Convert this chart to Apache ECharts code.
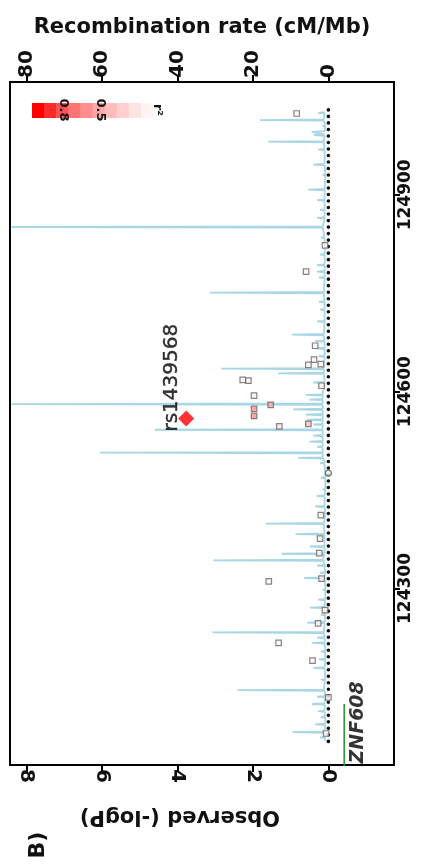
<!DOCTYPE html>
<html><head><meta charset="utf-8">
<script src="https://cdn.jsdelivr.net/npm/echarts@6/dist/echarts.min.js"></script>
<style>html,body{margin:0;padding:0;background:#fff}#c{width:428px;height:865px}</style>
</head><body><div id="c"></div>
<script>
// ---- axis ticks ----
const logPTicks = [0, 2, 4, 6, 8];
const recombTicks = [0, 20, 40, 60, 80];
const posTicks = [124300, 124600, 124900];

// ---- recombination rate (cM/Mb) along position (kb): each row = shoulder, peak, shoulder ----
const recombPos = [
  124068,
  124072,124073,124074,  124080,124081,124082,  124092,124093,124094,  124103,124104,124105,
  124112,124113,124114,  124123,124124,124125,  124134,124135,124136,  124144,124145,124146,
  124160,124161,124162,  124178,124179,124180,  124191,124192,124193,  124203,124204,124205,
  124216,124217,124218,  124224,124225,124226,  124232,124233,124234,  124247,124248,124249,
  124259,124260,124261,  124270,124271,124272,  124282,124283,124284,  124297,124298,124299,
  124315,124316,124317,  124323,124324,124325,  124334,124335,124336,  124342,124343,124344,
  124352,124353,124354,  124363,124364,124365,  124382,124383,124384,  124398,124399,124400,
  124412,124413,124414,  124424,124425,124426,  124440,124441,124442,  124450,124451,124452,
  124468,124469,124470,  124490,124491,124492,  124498,124499,124500,  124506,124507,124508,
  124515,124516,124517,  124523,124524,124525,  124532,124533,124534,  124541,124542,124543,
  124549,124550,124551,  124556,124557,124558,  124564,124565,124566,  124572,124573,124574,
  124580,124581,124582,  124587,124588,124589,  124594,124595,124596,  124613,124614,124615,
  124627,124628,124629,  124634,124635,124636,  124653,124654,124655,  124665,124666,124667,
  124676,124677,124678,  124686,124687,124688,  124706,124707,124708,  124724,124725,124726,
  124736,124737,124738,  124750,124751,124752,  124773,124774,124775,  124782,124783,124784,
  124792,124793,124794,  124808,124809,124810,  124834,124835,124836,  124850,124851,124852,
  124864,124865,124866,  124876,124877,124878,  124891,124892,124893,  124907,124908,124909,
  124929,124930,124931,  124945,124946,124947,  124968,124969,124970,  124980,124981,124982,
  124990,124991,124992,  124995,124996,124997,  125004,125005,125006,  125013,125014,125015,
  125024,125025,125026,
  125027
];
const recombRate = [
  1,
  0.8,2.2,0.8,  1,9.5,1,  0.9,3.5,0.8,  0.8,2,0.9,
  1,2.7,1,  1,4.4,1,  0.9,3,0.8,  1,24.1,1.2,
  0.9,2,0.8,  1,4,1,  0.8,2.5,0.8,  0.9,2,0.8,
  1,4.4,1,  1,3,1,  1.2,30.7,1.2,  1,5.6,1,
  0.8,2,0.8,  1,4.9,1,  0.9,2.7,0.8,  0.8,1.5,0.8,
  1,6.4,1,  0.9,2.2,0.8,  1,3,1,  1.2,30.5,1.5,
  1,12.4,1,  1,4.9,1,  1,8.7,1,  1.2,16.6,1.2,
  0.8,2,0.8,  1,3.5,1,  1,3.1,1,  0.8,1.5,0.8,
  0.8,2,0.8,  1,2.2,1,  1.2,8,1.5,  1.5,60.6,1.5,
  1.5,3,1.5,  1.5,5,1.5,  1.5,4,1.5,  1.5,46,1.5,
  1.5,4,1.5,  1.5,5.7,1.5,  1.5,6,1.5,  1.5,9.3,1.5,
  1.5,84,1.5,  1.5,5,1.5,  1.5,6,1.5,  1,4,1,
  1.2,13.3,1.2,  1.2,28.3,1.2,  1,2.5,1,  1,3.3,1,
  1,3.5,1,  1.2,9.7,1.2,  1,3,1,  1,2.2,1,
  1,2.5,1,  1.2,31.4,1.2,  1,2.5,1,  1,3,1,
  1,3,1,  1,2.2,1,  1,2,1,  1.5,84,1.5,
  1,3,1,  1,2.2,1,  1,3,1,  1,5.3,1,
  0.8,1.5,0.8,  1,4,1,  1,2.7,1,  1.2,15.9,1.2,
  1,3.9,1,  1,4.4,1,  0.8,1.5,0.8,  1.2,18.1,1.2,
  1,2.7,1,
  1
];

// ---- SNPs: position (kb), -log10 P, r2 with index SNP ----
const snpPos  = [125024,124823,124783,124670,124649,124641,124642,124618,124617,124609,124594,124580,124574,124563,124547,124551,124412,124376,124354,124315,124311,124267,124247,124217,124190,124134,124079];
const snpLogP = [0.84,0.09,0.59,0.35,0.38,0.53,0.2,2.27,2.12,0.18,1.97,1.53,1.97,1.97,1.3,0.53,0.2,0.22,0.24,0.18,1.58,0.09,0.27,1.32,0.42,0.0,0.06];
const snpR2   = [0.05,0.05,0.05,0.05,0.05,0.05,0.05,0.05,0.05,0.05,0.05,0.45,0.5,0.5,0.1,0.3,0.05,0.05,0.05,0.05,0.05,0.05,0.05,0.05,0.05,0.05,0.05];
const otherSnpPos = [124476];
const otherSnpLogP = [0];
const indexSnpName = 'rs1439568';
const indexSnpPos = [124559];
const indexSnpLogP = [3.77];

// ---- baseline and gene ----
const baselinePos = [124067, 125030];
const baselineLogP = [0, 0];
const geneName = 'ZNF608';
const genePos = [124000, 124124];
const geneLogP = [-0.42, -0.42];
const geneLabelPos = [124096];
const geneLabelLogP = [-0.79];

// r2 legend bins, from 0.0-0.1 (index 0) to 0.9-1.0 (index 9)
const r2Colors = ['#fff3f3','#ffe2e2','#ffcfcf','#ffbcbc','#ffa6a6','#ff8f8f','#ff7474','#ff5252','#ff2a2a','#ff0000'];
const r2LegendLabels = ['0.8', '0.5', 'r\u00b2'];

const FONT = 'DejaVu Sans';
function r2Color(r) { return r2Colors[Math.min(9, Math.floor(r * 10))]; }

const chart = echarts.init(document.getElementById('c'), null, {renderer: 'canvas'});

const legendRects = r2Colors.slice().reverse().map((c, i) => ({
  type: 'rect', silent: true,
  shape: {x: 32 + i * 12.1, y: 103, width: 12.6, height: 15},
  style: {fill: c}
}));
const legendTextX = [63, 100, 157];
const legendTexts = r2LegendLabels.map((t, i) => ({
  type: 'text', silent: true, x: legendTextX[i], y: 110, rotation: -Math.PI / 2,
  style: {text: t, fontFamily: FONT, fontWeight: 'bold', fontSize: 13, fill: '#111',
          align: 'center', verticalAlign: 'middle', textAlign: 'center', textVerticalAlign: 'middle'}
}));

const option = {
  backgroundColor: '#fff',
  animation: false,
  textStyle: {fontFamily: FONT},
  grid: {left: 10, right: 34, top: 82, bottom: 100, show: true, borderColor: '#000', borderWidth: 2, backgroundColor: 'transparent'},
  xAxis: [
    {
      type: 'value', position: 'bottom', inverse: true, min: -1.74, max: 8.44,
      name: 'Observed (-logP)', nameLocation: 'middle', nameGap: 41, nameRotate: 180,
      nameTextStyle: {fontFamily: FONT, fontWeight: 'bold', fontSize: 21, color: '#111', padding: [0, 0, 0, 44]},
      axisLine: {show: true, onZero: false, lineStyle: {color: '#000', width: 2}},
      axisTick: {show: true, length: 7, lineStyle: {color: '#000', width: 2}, customValues: logPTicks},
      axisLabel: {show: true, rotate: -90, margin: 4, fontFamily: FONT, fontWeight: 'bold', fontSize: 20, color: '#111', customValues: logPTicks},
      splitLine: {show: false}
    },
    {
      type: 'value', position: 'top', inverse: true, min: -17.4, max: 84.4,
      name: 'Recombination rate (cM/Mb)', nameLocation: 'middle', nameGap: 44,
      nameTextStyle: {fontFamily: FONT, fontWeight: 'bold', fontSize: 21, color: '#111'},
      axisLine: {show: true, onZero: false, lineStyle: {color: '#000', width: 2}},
      axisTick: {show: true, length: 7, lineStyle: {color: '#000', width: 2}, customValues: recombTicks},
      axisLabel: {show: true, rotate: -90, margin: 4, fontFamily: FONT, fontWeight: 'bold', fontSize: 20, color: '#111', customValues: recombTicks},
      splitLine: {show: false}
    }
  ],
  yAxis: [{
    type: 'value', position: 'right', min: 124031, max: 125072,
    axisLine: {show: true, onZero: false, lineStyle: {color: '#000', width: 2}},
    axisTick: {show: true, length: 6, lineStyle: {color: '#000', width: 2}, customValues: posTicks},
    axisLabel: {show: true, rotate: 90, margin: 3, fontFamily: FONT, fontWeight: 'bold', fontSize: 17, color: '#111',
                customValues: posTicks, formatter: v => String(v)},
    splitLine: {show: false}
  }],
  graphic: [
    ...legendRects, ...legendTexts,
    {type: 'text', silent: true, x: 38, y: 845, rotation: Math.PI / 2,
     style: {text: 'B)', fontFamily: FONT, fontWeight: 'bold', fontSize: 22, fill: '#111',
             align: 'center', verticalAlign: 'middle', textAlign: 'center', textVerticalAlign: 'middle'}}
  ],
  series: [
    {
      name: 'recomb', type: 'line', xAxisIndex: 1, yAxisIndex: 0, symbol: 'none', z: 1,
      lineStyle: {color: '#a9d6e5', width: 1.8}, clip: true,
      data: recombPos.map((p, i) => [recombRate[i], p])
    },
    {
      name: 'baseline', type: 'line', xAxisIndex: 0, yAxisIndex: 0, symbol: 'none', z: 2,
      lineStyle: {color: '#111', width: 3.6, type: [0.01, 6.5], cap: 'round'},
      data: baselinePos.map((p, i) => [baselineLogP[i], p])
    },
    {
      name: 'gene', type: 'line', xAxisIndex: 0, yAxisIndex: 0, symbol: 'none', z: 2, clip: true,
      lineStyle: {color: '#2e9a3a', width: 1.6},
      data: genePos.map((p, i) => [geneLogP[i], p])
    },
    {
      name: 'geneLabel', type: 'scatter', xAxisIndex: 0, yAxisIndex: 0, symbolSize: 0, z: 3,
      label: {show: true, position: 'inside', formatter: geneName, rotate: 90, fontFamily: FONT, fontWeight: 'bold',
              fontStyle: 'italic', fontSize: 19, color: '#000'},
      data: geneLabelPos.map((p, i) => [geneLabelLogP[i], p])
    },
    {
      name: 'snps', type: 'scatter', xAxisIndex: 0, yAxisIndex: 0, symbol: 'rect', symbolSize: 5.5, z: 4,
      data: snpPos.map((p, i) => ({value: [snpLogP[i], p],
        itemStyle: {color: r2Color(snpR2[i]), borderColor: '#666', borderWidth: 1.2}}))
    },
    {
      name: 'otherSnps', type: 'scatter', xAxisIndex: 0, yAxisIndex: 0, symbol: 'circle', symbolSize: 6, z: 4,
      itemStyle: {color: '#fff', borderColor: '#555', borderWidth: 1.3},
      data: otherSnpPos.map((p, i) => [otherSnpLogP[i], p])
    },
    {
      name: 'index', type: 'scatter', xAxisIndex: 0, yAxisIndex: 0, symbol: 'diamond', symbolSize: 16, z: 5,
      itemStyle: {color: '#ff0000'},
      label: {show: true, formatter: indexSnpName, position: [-6, 21], rotate: 90, align: 'left', verticalAlign: 'middle',
              fontFamily: FONT, fontSize: 20, color: '#000', textBorderColor: '#000', textBorderWidth: 0.4},
      data: indexSnpPos.map((p, i) => [indexSnpLogP[i], p])
    }
  ]
};
chart.setOption(option);
</script>
</body></html>
